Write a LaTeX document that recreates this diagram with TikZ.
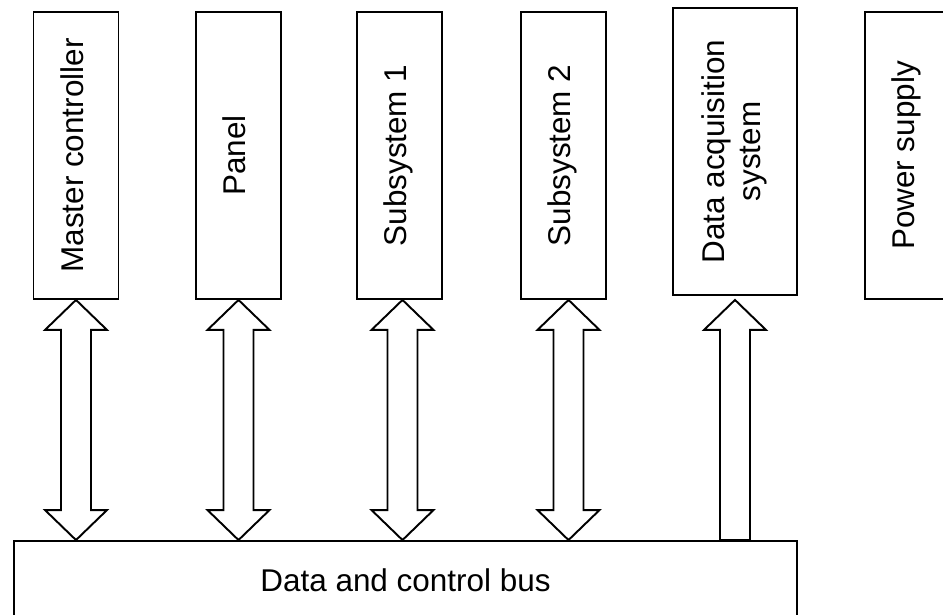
\documentclass[tikz,border=0pt]{standalone}
\usepackage{fontspec}
\setmainfont{Liberation Sans}
\usepackage{graphicx}
\usetikzlibrary{calc}

\newcommand{\vlabel}[1]{\rotatebox{90}{\begin{tabular}{@{}c@{}}#1\end{tabular}}}
% hollow double arrow from a unit down to the bus
\newcommand{\busarrow}[2]{%
  \coordinate (#1-t) at ($(#1.south)+(#2,0)$);
  \coordinate (#1-b) at (#1-t |- bus.north);
  \draw[hollow] (#1-t) -- ++(31,30) -- ++(-16,0) -- ($(#1-b)+(15,-30)$) -- ++(16,0) -- (#1-b)
    -- ++(-31,-30) -- ++(16,0) -- ($(#1-t)+(-15,30)$) -- ++(-16,0) -- cycle;
}

\begin{document}
\begin{tikzpicture}[x=.02cm, y=-.02cm,
					every node/.style={font=\fontsize{17.9}{20.6}\selectfont},
					unit/.style={draw, line width=1.1pt, inner sep=0pt, minimum width=1.7cm, minimum height=5.74cm},
					hollow/.style={draw, fill=white, line width=1.1pt, line join=miter}
				]
				\clip (0,0) rectangle (943,615);
				\node[unit] (mc) at (76,155.5) {\vlabel{Master controller}};
				\node[unit] (pan) at (238.5,155.5) {\vlabel{Panel}};
				\node[unit] (sub1) at (399.5,155.5) {\vlabel{Subsystem 1}};
				\node[unit] (sub2) at (563.5,155.5) {\vlabel{Subsystem 2}};
				\node[unit, minimum width=2.48cm] (das) at (735,151.5) {\vlabel{Data acquisition\\system}};
				\node[unit] (ps) at (907.5,155.5) {\vlabel{Power supply}};
				\node[unit, minimum width=15.66cm, minimum height=1.56cm] (bus) at (405.5,580) {Data and control bus};
				
				\busarrow{mc}{0}
				\busarrow{pan}{0}
				\busarrow{sub1}{3}
				\busarrow{sub2}{5}
				
				\coordinate (das-t) at ($(das.south)+(0,4)$);
				\coordinate (das-b) at (das-t |- bus.north);
				\draw[hollow] (das-t) -- ++(31,30) -- ++(-16,0) -- ($(das-b)+(15,0)$) -- ++(-30,0)
					-- ($(das-t)+(-15,30)$) -- ++(-16,0) -- cycle;
			\end{tikzpicture}
\end{document}
